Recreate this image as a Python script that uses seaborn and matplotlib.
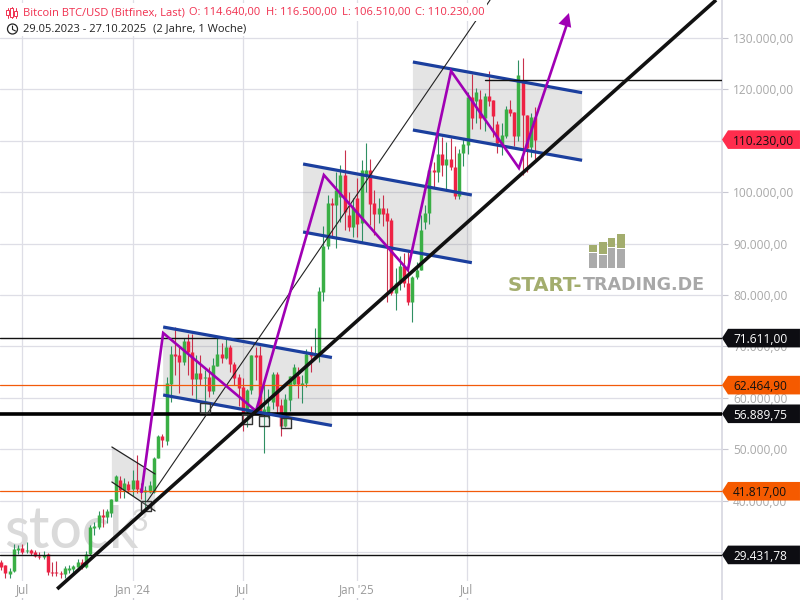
import numpy as np
import pandas as pd
import seaborn as sns
import matplotlib.pyplot as plt
import matplotlib.transforms as mtrans
from matplotlib.patches import Polygon, Rectangle, Circle

# weekly candles, 29.05.2023 - 27.10.2025
opens = [28000, 27400, 25800, 26300, 30400, 30780, 30100, 30300, 30000, 29300,
         29000, 29600, 26200, 26100, 26000, 25800, 26500, 26700, 27150, 28000,
         27150, 29600, 34650, 34950, 37200, 36900, 37650, 40000, 44000, 42000,
         43200, 42200, 44000, 42400, 41700, 41700, 41700, 48300, 52500, 51600,
         62700, 68500, 68300, 67000, 71050, 68900, 63660, 64800, 63800, 64000,
         61300, 66200, 68550, 67700, 69900, 66600, 64050, 62100, 57200, 61500,
         68300, 68300, 57000, 57300, 59200, 64600, 58600, 54500, 59600, 62700,
         64250, 62400, 62900, 68900, 68200, 68800, 80580, 89530, 97900, 97500,
         99000, 103350, 95600, 93230, 98900, 94000, 103350, 104300, 97900, 95760,
         96900, 96000, 94600, 80400, 82300, 85640, 82300, 78700, 83500, 84900,
         94200, 95960, 104300, 104000, 107400, 105300, 106500, 104900, 99300, 107600,
         109180, 118520, 117750, 118130, 114440, 118700, 117930, 113270, 109180, 110940,
         116190, 115600, 110940, 121830, 115020, 108800, 114640]
highs = [28400, 27500, 26800, 31560, 31300, 31500, 32000, 30600, 30400, 30000,
         30200, 29800, 28100, 28200, 26400, 27200, 27450, 27400, 28600, 28600,
         30200, 35200, 35900, 38000, 38400, 38400, 40400, 44900, 44800, 44300,
         43800, 45900, 48900, 43500, 42850, 43850, 48500, 52800, 52900, 64000,
         70100, 73800, 70000, 71700, 72400, 72400, 68400, 68300, 65500, 66000,
         67700, 71600, 70600, 71900, 70200, 66900, 64600, 63800, 61800, 68400,
         69900, 70000, 62700, 61800, 65000, 65000, 59800, 60700, 64300, 66500,
         66000, 64500, 69400, 70000, 73600, 81560, 93400, 99500, 98800, 103930,
         105200, 108200, 100000, 98900, 102700, 106300, 109600, 106400, 100400, 98800,
         99400, 96900, 95000, 85300, 87500, 88170, 88400, 83700, 86500, 95500,
         97500, 104400, 105800, 112000, 110740, 109700, 110540, 108900, 108500, 110500,
         119500, 123000, 120270, 119900, 119300, 123580, 118000, 113900, 113400, 116800,
         117930, 115700, 125720, 126100, 115100, 115500, 116500]
lows = [26500, 25000, 25000, 26200, 29600, 29700, 29900, 29500, 29000, 28600,
        28700, 25500, 25300, 25300, 25000, 24900, 26000, 26000, 27000, 26600,
        26800, 29500, 33400, 34500, 34800, 35700, 36800, 39900, 40500, 40500,
        41500, 40800, 41500, 40300, 38500, 41500, 41500, 48300, 50500, 50900,
        59200, 64500, 60900, 66400, 64500, 60600, 59600, 62400, 56800, 60100,
        60700, 66100, 66700, 67500, 65000, 62500, 58500, 53500, 54300, 60700,
        63500, 57100, 49300, 56100, 57800, 57100, 52600, 54300, 57500, 62500,
        59900, 59000, 62100, 65100, 67500, 67000, 78900, 89000, 91300, 89100,
        94200, 92650, 92500, 91300, 91200, 90100, 100100, 93600, 91700, 94100,
        93400, 78640, 80000, 77080, 81000, 81600, 78000, 74700, 83100, 84800,
        92800, 93800, 100800, 102000, 103100, 100600, 104400, 98700, 98700, 105000,
        107500, 112300, 113500, 112300, 111900, 116800, 110700, 107600, 107300, 110600,
        114800, 109000, 110000, 103350, 103930, 106850, 106510]
closes = [27000, 25900, 26300, 30600, 30850, 30000, 30400, 29900, 29300, 29000,
          29350, 26200, 26000, 25900, 25800, 26900, 26800, 27300, 28100, 27150,
          29700, 34950, 35100, 37200, 36900, 37900, 40250, 44750, 42000, 43400,
          42000, 44000, 42200, 41700, 42000, 43000, 48300, 52500, 51700, 62880,
          68500, 68100, 67000, 71050, 68900, 63660, 64900, 63660, 64000, 61300,
          66400, 68550, 67700, 69900, 66600, 63800, 61900, 56900, 61500, 68300,
          68000, 57200, 57800, 58400, 64600, 58400, 54500, 59800, 64250, 66000,
          62700, 62900, 68500, 68100, 68800, 80800, 89530, 97900, 97500, 100400,
          103350, 96150, 93230, 97100, 93800, 104300, 104300, 97700, 95760, 96900,
          95760, 94400, 80400, 82300, 85640, 82300, 78700, 83500, 84900, 92650,
          95960, 104300, 103900, 107400, 105300, 106500, 104900, 99300, 107600, 109400,
          118520, 114440, 119490, 114440, 118700, 117750, 114830, 109580, 111130, 116190,
          115400, 110940, 122800, 115020, 108600, 114630, 110230]

# x axis
tick_weeks = [5, 31, 57, 83.8, 109.8]
tick_names = ['Jul', "Jan '24", 'Jul', "Jan '25", 'Jul']
price_ticks = [30000, 40000, 50000, 60000, 70000, 80000, 90000, 100000, 110000, 120000, 130000]

# horizontal levels
level_prices = [71611.00, 62464.90, 56889.75, 41817.00, 29431.78]
level_names = ['71.611,00', '62.464,90', '56.889,75', '41.817,00', '29.431,78']
level_colors = ['#111111', '#f25a0a', '#000000', '#f25a0a', '#111111']
level_widths = [1.0, 0.9, 2.6, 0.9, 1.0]

# channels: left week, right week, upper left/right, lower left/right
small_channel = [26.1, 36.3, 50430, 45176, 43620, 37980]
blue_channels = [[38.2, 78.0, 73774, 67840, 60546, 54610],
                 [71.2, 111.0, 105486, 99455, 92257, 86285],
                 [97.1, 137.0, 125331, 119358, 112101, 106207]]

zigzag_weeks = [33.1, 38.2, 60.1, 76.1, 95.9, 106.1, 122.1, 133.9]
zigzag_prices = [41676, 72607, 57433, 103346, 84864, 123580, 104708, 134864]

trend_weeks = [13.2, 168.6]
trend_prices = [22805, 137393]
thin_weeks = [34.4, 115.3]
thin_prices = [39825, 137393]
resist_weeks = [114.1, 170.0]
resist_prices = [121829, 121829]

square_weeks = [48.1, 57.9, 62.0, 67.1, 34.2]
square_prices = [57918, 55877, 55488, 55001, 38853]

sns.set_theme(style='whitegrid', rc={
    'axes.edgecolor': '#d8d8e2',
    'grid.color': '#dedee6',
    'grid.linewidth': 0.9,
})
plt.rcParams['font.family'] = ['Open Sans', 'DejaVu Sans']

fig = plt.figure(figsize=(8, 6), dpi=100)
ax = fig.add_axes([0, 0, 722 / 800, 1])
ax.set_xlim(-0.283, 170.0)
ax.set_ylim(20661, 137393)
ax.set_axisbelow(True)
px = mtrans.Affine2D().scale(1 / 800, -1 / 600).translate(0, 1) + fig.transFigure

# candles
weeks = np.arange(len(opens))
rows_wick = []
rows_body = []
for w, o, h, l, c in zip(weeks, opens, highs, lows, closes):
    kind = 'up' if c >= o else 'down'
    rows_wick += [(w, l, kind), (w, h, kind)]
    rows_body += [(w, o, kind), (w, c, kind)]
wick = pd.DataFrame(rows_wick, columns=['week', 'price', 'kind'])
body = pd.DataFrame(rows_body, columns=['week', 'price', 'kind'])

for c in [small_channel] + blue_channels:
    ax.add_patch(Polygon([(c[0], c[2]), (c[1], c[3]), (c[1], c[5]), (c[0], c[4])],
                         facecolor='#7a7a7a', alpha=0.2, lw=0, zorder=1))

ax.text(0.6, 30780, 'stock', fontsize=41, fontweight=500, family=['Lato', 'DejaVu Sans'],
        color='#dadada', zorder=1)
ax.text(30.6, 34085, '3', fontsize=22, family=['Lato', 'DejaVu Sans'], color='#dadada', zorder=1)

sns.lineplot(data=wick, x='week', y='price', hue='kind', units='week', estimator=None, sort=False,
             palette={'up': '#2f8f62', 'down': '#c9304c'}, lw=0.8, legend=False, ax=ax,
             solid_capstyle='butt', zorder=3)
sns.lineplot(data=body, x='week', y='price', hue='kind', units='week', estimator=None, sort=False,
             palette={'up': '#3aaf45', 'down': '#ee2244'}, lw=2.5, legend=False, ax=ax,
             solid_capstyle='butt', zorder=3)

for price, color, width in zip(level_prices, level_colors, level_widths):
    ax.axhline(price, color=color, lw=width, zorder=4)

# channel borders
for c in [small_channel]:
    for a, b in [(c[2], c[3]), (c[4], c[5])]:
        sns.lineplot(x=[c[0], c[1]], y=[a, b], color='#222222', lw=0.9, ax=ax, zorder=5)
for c in blue_channels:
    for a, b in [(c[2], c[3]), (c[4], c[5])]:
        sns.lineplot(x=[c[0], c[1]], y=[a, b], color='#1b3f9e', lw=2.3, ax=ax, zorder=5,
                     solid_capstyle='butt')

sns.lineplot(x=thin_weeks, y=thin_prices, color='#222222', lw=0.8, ax=ax, zorder=5)
sns.lineplot(x=resist_weeks, y=resist_prices, color='#111111', lw=1.0, ax=ax, zorder=5)
sns.scatterplot(x=square_weeks, y=square_prices, marker='s', s=62, facecolor='#bbbbbb33',
                edgecolor='#333333', linewidth=1.0, ax=ax, zorder=5)
sns.lineplot(x=zigzag_weeks[:-1] + [zigzag_weeks[-1] - 0.4], y=zigzag_prices[:-1] + [zigzag_prices[-1] - 2000],
             color='#a000b4', lw=1.9, sort=False, estimator=None, ax=ax, zorder=6, solid_joinstyle='miter')
ax.annotate('', xy=(zigzag_weeks[-1], zigzag_prices[-1]), xytext=(zigzag_weeks[-2], zigzag_prices[-2]),
            arrowprops=dict(arrowstyle='-|>', color='#a000b4', lw=0, mutation_scale=24, shrinkA=0, shrinkB=0),
            zorder=6)
sns.lineplot(x=trend_weeks, y=trend_prices, color='#111111', lw=2.6, ax=ax, zorder=6, solid_capstyle='butt')

# axes
ax.set_xlabel('')
ax.set_ylabel('')
for side in ['left', 'top', 'bottom']:
    ax.spines[side].set_visible(False)
ax.spines['right'].set_color('#d8d8e2')
ax.set_xticks(tick_weeks)
ax.set_xticklabels(tick_names)
ax.set_yticks(price_ticks)
ax.set_yticklabels([f'{p:,.2f}'.replace(',', 'X').replace('.', ',').replace('X', '.') for p in price_ticks])
ax.yaxis.tick_right()
ax.tick_params(axis='y', right=True, length=4, width=0.8, color='#c8c8d2', pad=4, labelsize=8.6, labelcolor='#a8a8a8')
ax.tick_params(axis='x', bottom=True, direction='in', length=3, width=0.8, color='#c8c8d2', pad=-12,
               labelsize=8.4, labelcolor='#9a9a9a')
for lab in ax.get_xticklabels():
    lab.set_bbox(dict(facecolor='white', edgecolor='none', pad=1.5))

# price tags
tag_prices = [110230.0] + level_prices
tag_names = ['110.230,00'] + level_names
tag_fill = ['#ff2d4d', '#0d0d12', '#f55a00', '#0d0d12', '#f55a00', '#0d0d12']
tag_text = ['#111111', 'white', '#111111', 'white', '#111111', 'white']
trans = ax.get_yaxis_transform()
for price, name, fill, col in zip(tag_prices, tag_names, tag_fill, tag_text):
    ax.add_patch(Polygon([(1.0, price), (1.0083, price + 1810), (1.108, price + 1810),
                          (1.108, price - 1810), (1.0083, price - 1810)],
                         transform=trans, facecolor=fill, lw=0, clip_on=False, zorder=10))
    ax.text(1.0152, price, name, transform=trans, color=col, fontsize=8.6, va='center_baseline', zorder=11, clip_on=False)

# header
ax.add_patch(Rectangle((0, 3), 487, 18, transform=px, facecolor='white', lw=0, zorder=12, clip_on=False))
ax.add_patch(Rectangle((0, 21), 250, 15, transform=px, facecolor='white', lw=0, zorder=12, clip_on=False))
head_red = '#f0304f'
for x, s in [(23, 'Bitcoin BTC/USD (Bitfinex, Last)'), (189, 'O: 114.640,00'), (266, 'H: 116.500,00'),
             (342, 'L: 106.510,00'), (415, 'C: 110.230,00')]:
    ax.text(x, 13, s, transform=px, color=head_red, fontsize=8, va='center', zorder=13, clip_on=False)
ax.text(23, 29, '29.05.2023 - 27.10.2025', transform=px, color='#222222', fontsize=8, va='center', zorder=13)
ax.text(153, 29, '(2 Jahre, 1 Woche)', transform=px, color='#222222', fontsize=8, va='center', zorder=13)
for x, t, b in [(7.5, 10, 15), (11.5, 8, 17), (15.5, 11, 16)]:
    ax.plot([x, x], [7 if x == 11.5 else 8, 18], transform=px, color=head_red, lw=0.7, zorder=13, clip_on=False)
    ax.add_patch(Rectangle((x - 1.2, t), 2.4, b - t, transform=px, facecolor='white', edgecolor=head_red,
                           lw=0.7, zorder=13, clip_on=False))
ax.add_patch(Circle((12.5, 29), 5, transform=px, facecolor='white', edgecolor='#222222', lw=0.9, zorder=13))
ax.plot([12.5, 12.5, 15.5], [26, 29.5, 31], transform=px, color='#222222', lw=0.8, zorder=13)

# logo
bars_x = [589, 599, 607.7, 617.3]
bars_green = [245, 242, 237.7, 234]
bars_grey = [253, 255, 248, 249]
for x, g, m in zip(bars_x, bars_green, bars_grey):
    ax.add_patch(Rectangle((x, g), 7.7, m - g - 1, transform=px, facecolor='#a3ad6e', lw=0, zorder=2))
    ax.add_patch(Rectangle((x, m), 7.7, 267.7 - m, transform=px, facecolor='#ababab', lw=0, zorder=2))
ax.text(508, 285.5, 'START-', transform=px, color='#a3ad6e', fontsize=14.2, fontweight='bold',
        family=['DejaVu Sans'], va='center', zorder=2)
ax.text(583, 285.5, 'TRADING.DE', transform=px, color='#a8a8a8', fontsize=12.6, fontweight='bold',
        family=['DejaVu Sans'], va='center', zorder=2)

fig.savefig('out.png', dpi=100)
